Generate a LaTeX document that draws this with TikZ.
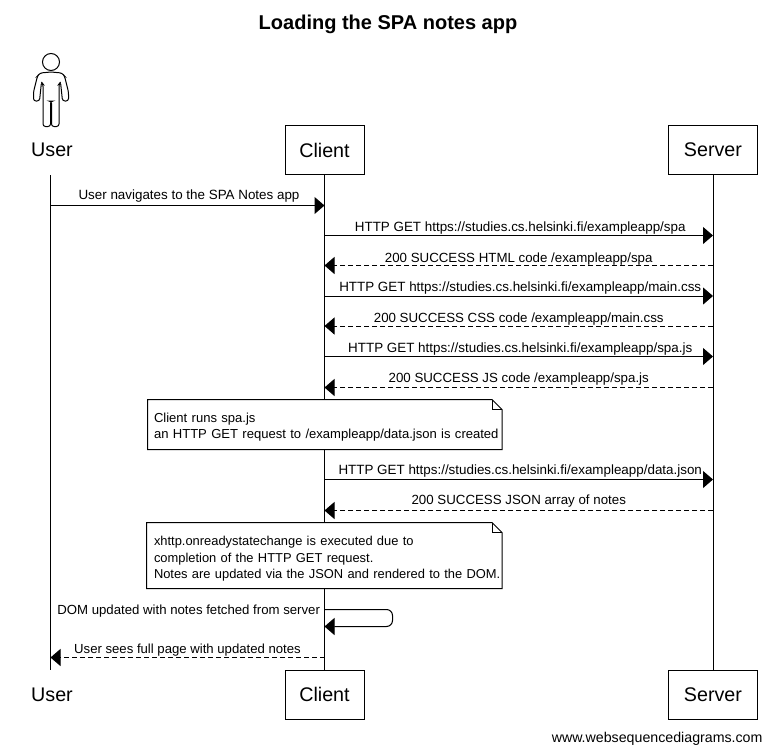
\documentclass[tikz,border=0pt]{standalone}
\usepackage{fontspec}
\setmainfont{Liberation Sans}
\usetikzlibrary{calc,arrows.meta}
\tikzset{
	lane/.style={draw,fill=white,inner sep=0pt,minimum width=79pt,minimum height=49pt,font=\fontsize{19.7}{22}\selectfont},
	actorname/.style={lane,draw=none,fill=none},
	msg/.style={-{Triangle[length=10pt,width=17pt]}},
	reply/.style={msg,dash pattern=on 5pt off 3pt},
	lab/.style={inner sep=0pt,text height=9.5pt,text depth=3pt,font=\fontsize{13.3}{16}\selectfont},
	fwdlab/.style={lab,xshift=1.5pt,font=\fontsize{13.4}{16}\selectfont},
	notebox/.style={fill=white,inner sep=0pt,align=left,execute at begin node=\rule{0pt}{#1}},
}
\newcommand{\notefold}[1]{
	\draw (#1.north west) -- ($(#1.north east)+(-10,0)$) -- ($(#1.north east)+(0,10)$) -- (#1.south east) -- (#1.south west) -- cycle;
	\draw ($(#1.north east)+(-10,0)$) -- ($(#1.north east)+(-10,10)$) -- ($(#1.north east)+(0,10)$);
}

\begin{document}
\begin{tikzpicture}[x=1pt,y=-1pt,line width=1pt]
	\useasboundingbox (0,0) rectangle (772,753);
	\node[inner sep=0pt,font=\bfseries\fontsize{20}{22}\selectfont] (title) at (388,24) {Loading the SPA notes app};

	%LIFELINES
	\node[actorname] (user) at (52,150) {User};
	\node[lane] (client) at (324.5,150) {Client};
	\node[lane,minimum width=89pt] (server) at (713,150) {Server};
	\node[actorname] (user') at (52,694.5) {User};
	\node[lane] (client') at (324.5,694.5) {Client};
	\node[lane,minimum width=89pt] (server') at (713,694.5) {Server};
	\coordinate (utop) at (50.5,175);
	\coordinate (ubot) at (50.5,670);
	\draw (utop) -- (ubot);
	\draw (client.south) -- (client'.north);
	\draw (server.south) -- (server'.north);

	%ACTOR
	\draw (51,62) circle (8.5);
	\draw[rounded corners=2.5pt] (51,72) -- (40,73) -- (37.5,76) -- (33.5,92) -- (33.5,101) -- (39.5,101) -- (41.5,82)
		-- (43,84) -- (43,126.5) -- (50.5,126.5) -- (50.5,101) -- (51.5,101) -- (51.5,126.5) -- (59,126.5) -- (59,84)
		-- (60.5,82) -- (62.5,101) -- (68.5,101) -- (68.5,92) -- (64.5,76) -- (62,73) -- cycle;

	%MESSAGES
	\coordinate (c0) at (client.south |- 0,205.5);
	\coordinate (u0) at (utop |- 0,205.5);
	\draw[msg] (u0) -- node[fwdlab,above=2.5pt] (m0) {User navigates to the SPA Notes app} (c0);

	\coordinate (c1) at (client.south |- 0,235.5);
	\coordinate (s1) at (server.south |- 0,235.5);
	\draw[msg] (c1) -- node[fwdlab,above=1pt] (m1) {HTTP GET https://studies.cs.helsinki.fi/exampleapp/spa} (s1);
	\coordinate (c2) at (client.south |- 0,265.5);
	\coordinate (s2) at (server.south |- 0,265.5);
	\draw[reply] (s2) -- node[lab,above=0pt] (m2) {200 SUCCESS HTML code /exampleapp/spa} (c2);

	\coordinate (c3) at (client.south |- 0,296);
	\coordinate (s3) at (server.south |- 0,296);
	\draw[msg] (c3) -- node[fwdlab,above=1pt] (m3) {HTTP GET https://studies.cs.helsinki.fi/exampleapp/main.css} (s3);
	\coordinate (c4) at (client.south |- 0,326);
	\coordinate (s4) at (server.south |- 0,326);
	\draw[reply] (s4) -- node[lab,above=0pt] (m4) {200 SUCCESS CSS code /exampleapp/main.css} (c4);

	\coordinate (c5) at (client.south |- 0,356.5);
	\coordinate (s5) at (server.south |- 0,356.5);
	\draw[msg] (c5) -- node[fwdlab,above=.7pt] (m5) {HTTP GET https://studies.cs.helsinki.fi/exampleapp/spa.js} (s5);
	\coordinate (c6) at (client.south |- 0,387.5);
	\coordinate (s6) at (server.south |- 0,387.5);
	\draw[reply] (s6) -- node[lab,above=1.6pt] (m6) {200 SUCCESS JS code /exampleapp/spa.js} (c6);

	%NOTE 1
	\node[notebox=14pt,font=\fontsize{13.05}{16.3}\selectfont,minimum width=353.5pt,minimum height=49pt,text width=341.5pt] (note1) at (324.75,424.5) {Client runs spa.js\\\mbox{an HTTP GET request to /exampleapp/data.json is created}};
	\notefold{note1}

	\coordinate (c7) at (client.south |- 0,479.5);
	\coordinate (s7) at (server.south |- 0,479.5);
	\draw[msg] (c7) -- node[fwdlab,above=1.3pt] (m7) {HTTP GET https://studies.cs.helsinki.fi/exampleapp/data.json} (s7);
	\coordinate (c8) at (client.south |- 0,510.5);
	\coordinate (s8) at (server.south |- 0,510.5);
	\draw[reply] (s8) -- node[lab,above=2.7pt] (m8) {200 SUCCESS JSON array of notes} (c8);

	%NOTE 2
	\node[notebox=16pt,font=\fontsize{12.9}{16.3}\selectfont,minimum width=354.5pt,minimum height=65pt,text width=340.5pt] (note2) at (324.25,555.5) {xhttp.onreadystatechange is executed due to\\completion of the HTTP GET request.\\\mbox{Notes are updated via the JSON and rendered to the DOM.}};
	\notefold{note2}

	%SELF MESSAGE
	\coordinate (c9) at (client.south |- 0,609.5);
	\coordinate (c10) at (client.south |- 0,626.5);
	\draw[msg,rounded corners=6pt] (c9) -- ++(68,0) -- ++(0,17) -- (c10);
	\node[lab,font=\fontsize{13.2}{16}\selectfont,left=4pt] (m9) at (c9 |- 0,611.5) {DOM updated with notes fetched from server};

	\coordinate (c11) at (client.south |- 0,657.5);
	\coordinate (u11) at (utop |- 0,657.5);
	\draw[reply] (c11) -- node[lab,font=\fontsize{13.15}{16}\selectfont,above=1pt] (m11) {User sees full page with updated notes} (u11);

	\node[inner sep=0pt,anchor=east,font=\fontsize{14.2}{16}\selectfont] (site) at (763,738.5) {www.websequencediagrams.com};
\end{tikzpicture}
\end{document}
